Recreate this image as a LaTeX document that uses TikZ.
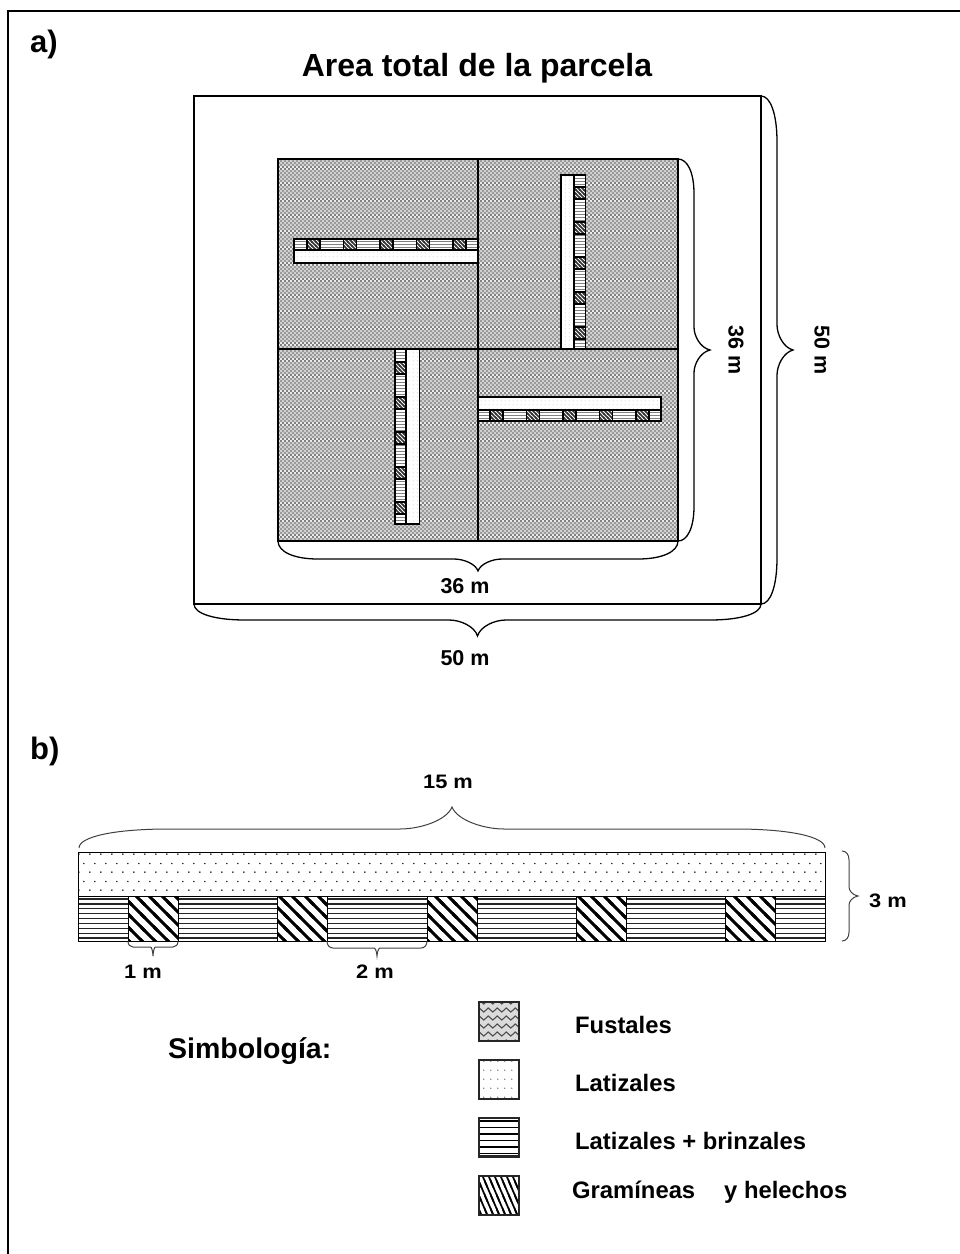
\documentclass[tikz,border=0pt]{standalone}
\usepackage{fontspec}
\setmainfont{Liberation Sans}
\usetikzlibrary{calc,patterns}
\definecolor{FustalClr}{rgb}{0.82,0.82,0.82}
\definecolor{FustalDrk}{rgb}{0.60,0.60,0.60}
\definecolor{BandDrk}{rgb}{0.50,0.50,0.50}
\definecolor{BandLgt}{rgb}{0.92,0.92,0.92}
\definecolor{LegendClr}{rgb}{0.86,0.86,0.86}

\pgfdeclarepatterninherentlycolored{fustalfino}{\pgfqpoint{-1pt}{-1pt}}{\pgfqpoint{5pt}{17pt}}{\pgfqpoint{4pt}{16pt}}{
  \pgfsetfillcolor{FustalClr}
  \pgfpathrectangle{\pgfqpoint{-1pt}{-1pt}}{\pgfqpoint{6pt}{18pt}}\pgfusepath{fill}
  \pgfsetfillcolor{BandLgt}
  \pgfpathrectangle{\pgfqpoint{-1pt}{-4pt}}{\pgfqpoint{6pt}{4pt}}\pgfusepath{fill}
  \pgfpathrectangle{\pgfqpoint{-1pt}{12pt}}{\pgfqpoint{6pt}{4pt}}\pgfusepath{fill}
  \pgfsetfillcolor{FustalDrk}
  \foreach \yy/\xx in {0/0,2/2,4/0,6/2,8/0,10/2,16/0}{
    \pgfpathrectangle{\pgfpoint{\xx pt}{\yy pt}}{\pgfqpoint{2pt}{2pt}}\pgfusepath{fill}
    \pgfpathrectangle{\pgfpoint{\xx pt-4pt}{\yy pt}}{\pgfqpoint{2pt}{2pt}}\pgfusepath{fill}
    \pgfpathrectangle{\pgfpoint{\xx pt+4pt}{\yy pt}}{\pgfqpoint{2pt}{2pt}}\pgfusepath{fill}
  }
  \pgfsetfillcolor{BandDrk}
  \foreach \yy/\xx in {-4/0,-2/2,12/0,14/2}{
    \pgfpathrectangle{\pgfpoint{\xx pt}{\yy pt}}{\pgfqpoint{2pt}{2pt}}\pgfusepath{fill}
    \pgfpathrectangle{\pgfpoint{\xx pt-4pt}{\yy pt}}{\pgfqpoint{2pt}{2pt}}\pgfusepath{fill}
    \pgfpathrectangle{\pgfpoint{\xx pt+4pt}{\yy pt}}{\pgfqpoint{2pt}{2pt}}\pgfusepath{fill}
  }
}
\pgfdeclarepatterninherentlycolored{fustalgrueso}{\pgfqpoint{-1pt}{-1pt}}{\pgfqpoint{10pt}{9pt}}{\pgfqpoint{9pt}{8pt}}{
  \pgfsetfillcolor{LegendClr}
  \pgfpathrectangle{\pgfqpoint{-1pt}{-1pt}}{\pgfqpoint{11pt}{10pt}}\pgfusepath{fill}
  \pgfsetstrokecolor{black!70}
  \pgfsetlinewidth{1.1pt}
  \pgfpathmoveto{\pgfqpoint{-1pt}{3pt}}
  \pgfpathlineto{\pgfqpoint{2.25pt}{6pt}}
  \pgfpathlineto{\pgfqpoint{6.75pt}{2pt}}
  \pgfpathlineto{\pgfqpoint{10pt}{5pt}}
  \pgfusepath{stroke}
}
\pgfdeclarepatternformonly{lineasfinas}{\pgfqpoint{-1pt}{0pt}}{\pgfqpoint{5pt}{3pt}}{\pgfqpoint{4pt}{3pt}}{
  \pgfpathrectangle{\pgfqpoint{-1pt}{0.8pt}}{\pgfqpoint{6pt}{1.2pt}}\pgfusepath{fill}
}
\pgfdeclarepatternformonly{lineasgrandes}{\pgfqpoint{-1pt}{0pt}}{\pgfqpoint{5pt}{4.9pt}}{\pgfqpoint{4pt}{4.9pt}}{
  \pgfpathrectangle{\pgfqpoint{-1pt}{1.5pt}}{\pgfqpoint{6pt}{1.4pt}}\pgfusepath{fill}
}
\pgfdeclarepatternformonly{lineaslegenda}{\pgfqpoint{-1pt}{0pt}}{\pgfqpoint{5pt}{6.5pt}}{\pgfqpoint{4pt}{6.5pt}}{
  \pgfpathrectangle{\pgfqpoint{-1pt}{2pt}}{\pgfqpoint{6pt}{1.6pt}}\pgfusepath{fill}
}
\pgfdeclarepatternformonly{diagfina}{\pgfqpoint{-1pt}{-1pt}}{\pgfqpoint{5pt}{5pt}}{\pgfqpoint{4pt}{4pt}}{
  \pgfsetlinewidth{1.5pt}
  \pgfpathmoveto{\pgfqpoint{-1pt}{5pt}}\pgfpathlineto{\pgfqpoint{5pt}{-1pt}}\pgfusepath{stroke}
}
\pgfdeclarepatternformonly{diaggrande}{\pgfqpoint{-3pt}{-3pt}}{\pgfqpoint{16pt}{16pt}}{\pgfqpoint{13pt}{13pt}}{
  \pgfsetlinewidth{3pt}
  \pgfpathmoveto{\pgfqpoint{-3pt}{16pt}}\pgfpathlineto{\pgfqpoint{16pt}{-3pt}}\pgfusepath{stroke}
}
\pgfdeclarepatternformonly{diaglegenda}{\pgfqpoint{-2pt}{-4pt}}{\pgfqpoint{8pt}{18pt}}{\pgfqpoint{6pt}{14pt}}{
  \pgfsetlinewidth{1.7pt}
  \pgfpathmoveto{\pgfqpoint{-2pt}{18.67pt}}\pgfpathlineto{\pgfqpoint{8pt}{-4.67pt}}\pgfusepath{stroke}
}
\pgfdeclarepatternformonly{puntosfinos}{\pgfqpoint{0pt}{0pt}}{\pgfqpoint{4pt}{4pt}}{\pgfqpoint{4pt}{4pt}}{
  \pgfpathrectangle{\pgfqpoint{1pt}{1pt}}{\pgfqpoint{1pt}{1pt}}\pgfusepath{fill}
}
\pgfdeclarepatternformonly{puntosgrandes}{\pgfqpoint{0pt}{0pt}}{\pgfqpoint{11pt}{18pt}}{\pgfqpoint{11pt}{18pt}}{
  \pgfpathcircle{\pgfqpoint{2pt}{4pt}}{0.9pt}\pgfusepath{fill}
  \pgfpathcircle{\pgfqpoint{7.5pt}{13pt}}{0.9pt}\pgfusepath{fill}
}
\pgfdeclarepatternformonly{puntoslegenda}{\pgfqpoint{0pt}{0pt}}{\pgfqpoint{6.5pt}{8.5pt}}{\pgfqpoint{6.5pt}{8.5pt}}{
  \pgfpathcircle{\pgfqpoint{3pt}{4pt}}{0.6pt}\pgfusepath{fill}
}

\tikzset{
  Fustal/.style={draw=black,line width=1.2pt,preaction={fill=white},pattern=fustalfino},
  Strip/.style={draw=black,line width=1.5pt,preaction={fill=white},pattern=lineasfinas,pattern color=black!50},
  StripCuad/.style={draw=black,line width=1.5pt,preaction={fill=white},pattern=diagfina,pattern color=black!80},
  StripLat/.style={draw=black,line width=1.5pt,preaction={fill=white},pattern=puntosfinos,pattern color=black!20},
  Legend/.style={draw=black!85,line width=1.3pt,preaction={fill=white}},
  llave/.style={draw=black,line width=1.3pt},
  llavefina/.style={draw=black!75,line width=1pt},
  Titulo/.style={anchor=base,inner sep=0pt,font=\fontsize{32}{34}\bfseries\selectfont},
  Letra/.style={anchor=base west,inner sep=0pt,font=\fontsize{31}{33}\bfseries\selectfont},
  Simb/.style={anchor=base west,inner sep=0pt,font=\fontsize{28.5}{30}\bfseries\selectfont},
  Medida/.style={anchor=center,inner sep=0pt,font=\fontsize{21.5}{23}\bfseries\selectfont},
  MedidaB/.style={anchor=base,inner sep=0pt,font=\fontsize{19.5}{21}\bfseries\selectfont},
  Simbolo/.style={anchor=base west,inner sep=0pt,font=\fontsize{23.8}{25}\bfseries\selectfont},
}

\newcommand{\Llave}[7][llave]{
  \pgfmathsetmacro{\dbA}{.6*#4}
  \pgfmathsetmacro{\tbA}{.4*#6}
  \pgfmathsetmacro{\tbB}{.5-#7}
  \pgfmathsetmacro{\tbC}{.5-.6*#7}
  \pgfmathsetmacro{\tbD}{.5-.1*#7}
  \pgfmathsetmacro{\dbD}{#4+.4*(#5-#4)}
  \foreach \nm/\ang/\p/\q in {a/90/#2/#3,b/-90/#3/#2}{
    \foreach \k/\tv/\dd in {1/0/\dbA,2/\tbA/#4,3/#6/#4,4/\tbB/#4,5/\tbC/#4,6/\tbD/\dbD,7/.5/#5}{
      \coordinate (\nm\k) at ($(\p)!\tv!(\q)!\dd pt!\ang:(\q)$);
    }
  }
  \draw[#1] (#2) .. controls (a1) and (a2) .. (a3) -- (a4) .. controls (a5) and (a6) .. (a7)
    .. controls (b6) and (b5) .. (b4) -- (b3) .. controls (b2) and (b1) .. (#3);
}

\begin{document}
\begin{tikzpicture}[x=1pt,y=-1pt]
\useasboundingbox (0,0) rectangle (960,1254);
\draw[line width=1.5pt] (8,1254) -- (8,11) -- (960,11);

\node[Letra] (LetraA) at (30,52) {a)};
\node[Titulo] (Titulo) at (477,76) {Area total de la parcela};

\coordinate (A) at (194,96);
\coordinate (B) at (761,96);
\coordinate (C) at (761,604);
\coordinate (D) at (194,604);
\coordinate (E) at (678,159);
\coordinate (F) at (678,541);
\coordinate (G) at (278,541);
\draw[line width=1.2pt] (A) rectangle (C);

\draw[Fustal] (278,159) rectangle (678,541);
\draw[line width=1.2pt] (478,159) -- (478,541) (278,349) -- (678,349);

\draw[Strip] (294,239) rectangle (478,250);
\draw[StripLat] (294,250) rectangle (478,263);
\foreach \x in {307,343.5,380,416.5,453}{
  \draw[StripCuad] (\x,239) rectangle (\x+13,250);
}
\draw[StripLat] (561,175) rectangle (574,349);
\draw[Strip] (574,175) rectangle (585.5,349);
\foreach \y in {187,222,257,292,327}{
  \draw[StripCuad] (574,\y) rectangle (585.5,\y+12);
}
\draw[StripLat] (478,397) rectangle (661,410);
\draw[Strip] (478,410) rectangle (661,421);
\foreach \x in {490,526.5,563,599.5,636}{
  \draw[StripCuad] (\x,410) rectangle (\x+13,421);
}
\draw[Strip] (395,349) rectangle (406,524);
\draw[StripLat] (406,349) rectangle (419.5,524);
\foreach \y in {362,397,432,467,502}{
  \draw[StripCuad] (395,\y) rectangle (406,\y+12);
}

\Llave{B}{C}{16}{32}{.09}{.05}
\Llave{E}{F}{16}{32}{.09}{.06}
\Llave{F}{G}{18}{30}{.1}{.06}
\Llave{C}{D}{16}{32}{.09}{.05}

\node[Medida,rotate=-90] (MedInt) at (736,350) {36 m};
\node[Medida,rotate=-90] (MedExt) at (822,350) {50 m};
\node[Medida] (BaseInt) at (465,586) {36 m};
\node[Medida] (BaseExt) at (465,658) {50 m};

\node[Letra] (LetraB) at (30,759) {b)};

\draw[line width=1pt,pattern=puntosgrandes] (78,852) rectangle (825,896);
\draw[line width=1pt,pattern=lineasgrandes,pattern color=black!85] (78,896) rectangle (825,941);
\foreach \x in {128,277,427,576,725}{
  \draw[line width=1pt,preaction={fill=white},pattern=diaggrande] (\x,896) rectangle (\x+50,941);
}

\coordinate (H) at (79,848);
\coordinate (I) at (825,848);
\coordinate (J) at (842,851);
\coordinate (K) at (842,941);
\coordinate (L) at (178,941);
\coordinate (M) at (128,941);
\coordinate (N) at (427,941);
\coordinate (O) at (327,941);
\Llave[llavefina]{H}{I}{19}{41}{.12}{.07}
\Llave[llavefina]{J}{K}{7}{16}{.1}{.1}
\Llave[llavefina]{L}{M}{6}{15}{.1}{.05}
\Llave[llavefina]{N}{O}{7}{15}{.06}{.03}

\node[MedidaB,xscale=1.12] (Med15) at (448,788) {15 m};
\node[MedidaB,xscale=1.12] (Med3) at (888,907) {3 m};
\node[MedidaB,xscale=1.12] (Med1) at (143,978) {1 m};
\node[MedidaB,xscale=1.12] (Med2) at (375,978) {2 m};

\node[Simb] (Simbologia) at (168,1058) {Simbología:};

\draw[Legend,pattern=fustalgrueso] (479,1002) rectangle (519,1041);
\draw[Legend,pattern=puntoslegenda] (479,1060) rectangle (519,1099);
\draw[Legend,pattern=lineaslegenda] (479,1118) rectangle (519,1157);
\draw[Legend,pattern=diaglegenda] (479,1176) rectangle (519,1215);
\draw[line width=2.5pt,black!85] (479,1156) -- (519,1156);

\node[Simbolo] (SimFus) at (575,1033) {Fustales};
\node[Simbolo] (SimLat) at (575,1091) {Latizales};
\node[Simbolo] (SimBri) at (575,1149) {Latizales + brinzales};
\node[Simbolo] (SimGra) at (572,1198) {Gramíneas\hspace{29pt}y helechos};

\end{tikzpicture}
\end{document}
